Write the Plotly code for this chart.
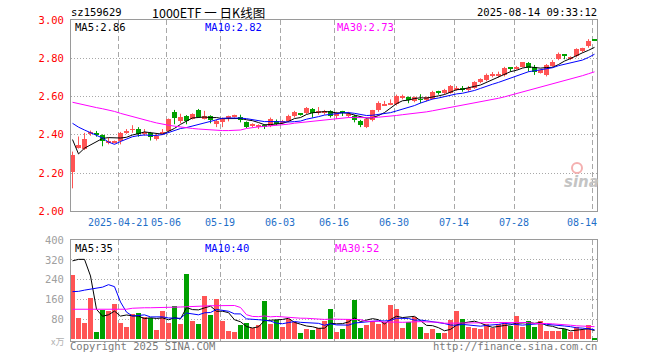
import plotly.graph_objects as go

# ---------------- data ----------------
dates = [
    "2025-04-09", "2025-04-10", "2025-04-11", "2025-04-14", "2025-04-15", "2025-04-16", "2025-04-17", "2025-04-18",
    "2025-04-21", "2025-04-22", "2025-04-23", "2025-04-24", "2025-04-25", "2025-04-28", "2025-04-29", "2025-04-30",
    "2025-05-06", "2025-05-07", "2025-05-08", "2025-05-09", "2025-05-12", "2025-05-13", "2025-05-14", "2025-05-15",
    "2025-05-16", "2025-05-19", "2025-05-20", "2025-05-21", "2025-05-22", "2025-05-23", "2025-05-26", "2025-05-27",
    "2025-05-28", "2025-05-29", "2025-05-30", "2025-06-03", "2025-06-04", "2025-06-05", "2025-06-06", "2025-06-09",
    "2025-06-10", "2025-06-11", "2025-06-12", "2025-06-13", "2025-06-16", "2025-06-17", "2025-06-18", "2025-06-19",
    "2025-06-20", "2025-06-23", "2025-06-24", "2025-06-25", "2025-06-26", "2025-06-27", "2025-06-30", "2025-07-01",
    "2025-07-02", "2025-07-03", "2025-07-04", "2025-07-07", "2025-07-08", "2025-07-09", "2025-07-10", "2025-07-11",
    "2025-07-14", "2025-07-15", "2025-07-16", "2025-07-17", "2025-07-18", "2025-07-21", "2025-07-22", "2025-07-23",
    "2025-07-24", "2025-07-25", "2025-07-28", "2025-07-29", "2025-07-30", "2025-07-31", "2025-08-01", "2025-08-04",
    "2025-08-05", "2025-08-06", "2025-08-07", "2025-08-08", "2025-08-11", "2025-08-12", "2025-08-13", "2025-08-14",
]

opens = [2.207, 2.331, 2.325, 2.405, 2.41, 2.40, 2.355, 2.36, 2.365, 2.41,
         2.425, 2.43, 2.405, 2.41, 2.378, 2.405, 2.42, 2.52, 2.47, 2.50,
         2.483, 2.527, 2.485, 2.50, 2.457, 2.465, 2.49, 2.495, 2.495, 2.468,
         2.447, 2.443, 2.447, 2.446, 2.473, 2.462, 2.47, 2.497, 2.513, 2.516,
         2.536, 2.518, 2.515, 2.524, 2.497, 2.52, 2.497, 2.50, 2.474, 2.443,
         2.478, 2.527, 2.553, 2.556, 2.56, 2.593, 2.595, 2.575, 2.585, 2.58,
         2.587, 2.623, 2.62, 2.618, 2.637, 2.642, 2.632, 2.645, 2.68, 2.685,
         2.708, 2.712, 2.71, 2.752, 2.745, 2.755, 2.775, 2.752, 2.727, 2.714,
         2.762, 2.796, 2.82, 2.798, 2.81, 2.836, 2.862, 2.898]

highs = [2.312, 2.391, 2.41, 2.422, 2.42, 2.402, 2.385, 2.37, 2.415, 2.43,
         2.45, 2.44, 2.43, 2.415, 2.405, 2.43, 2.485, 2.53, 2.51, 2.503,
         2.512, 2.535, 2.525, 2.502, 2.48, 2.49, 2.50, 2.505, 2.505, 2.47,
         2.46, 2.455, 2.455, 2.49, 2.48, 2.478, 2.505, 2.525, 2.513, 2.545,
         2.54, 2.545, 2.53, 2.528, 2.52, 2.525, 2.52, 2.505, 2.478, 2.485,
         2.53, 2.575, 2.577, 2.585, 2.61, 2.61, 2.60, 2.60, 2.612, 2.60,
         2.63, 2.63, 2.64, 2.66, 2.655, 2.655, 2.655, 2.68, 2.695, 2.72,
         2.728, 2.73, 2.755, 2.752, 2.76, 2.78, 2.78, 2.765, 2.74, 2.77,
         2.79, 2.83, 2.822, 2.81, 2.852, 2.855, 2.90, 2.90]

lows = [2.12, 2.328, 2.32, 2.395, 2.39, 2.34, 2.35, 2.355, 2.35, 2.405,
        2.41, 2.39, 2.395, 2.37, 2.37, 2.40, 2.415, 2.455, 2.46, 2.455,
        2.48, 2.488, 2.48, 2.46, 2.44, 2.44, 2.47, 2.49, 2.465, 2.435,
        2.44, 2.43, 2.43, 2.44, 2.45, 2.455, 2.465, 2.49, 2.50, 2.508,
        2.49, 2.505, 2.505, 2.49, 2.483, 2.498, 2.49, 2.465, 2.44, 2.435,
        2.47, 2.52, 2.553, 2.555, 2.553, 2.585, 2.565, 2.57, 2.565, 2.575,
        2.585, 2.61, 2.61, 2.615, 2.63, 2.625, 2.625, 2.64, 2.67, 2.68,
        2.70, 2.70, 2.705, 2.73, 2.74, 2.752, 2.73, 2.713, 2.72, 2.705,
        2.755, 2.79, 2.795, 2.79, 2.805, 2.83, 2.855, 2.89]

closes = [2.295, 2.348, 2.376, 2.41, 2.40, 2.37, 2.37, 2.365, 2.41, 2.42,
          2.43, 2.405, 2.41, 2.39, 2.395, 2.415, 2.48, 2.487, 2.495, 2.47,
          2.508, 2.492, 2.50, 2.478, 2.472, 2.48, 2.495, 2.50, 2.478, 2.44,
          2.455, 2.447, 2.443, 2.482, 2.458, 2.468, 2.498, 2.518, 2.508, 2.538,
          2.513, 2.522, 2.525, 2.50, 2.512, 2.516, 2.508, 2.478, 2.451, 2.482,
          2.527, 2.565, 2.556, 2.562, 2.603, 2.603, 2.582, 2.597, 2.582, 2.595,
          2.623, 2.62, 2.632, 2.655, 2.647, 2.638, 2.647, 2.678, 2.69, 2.715,
          2.72, 2.717, 2.75, 2.748, 2.75, 2.778, 2.75, 2.727, 2.737, 2.766,
          2.783, 2.823, 2.817, 2.803, 2.848, 2.852, 2.888, 2.894]

# volume, unit: 万
volumes = [257, 84, 67, 167, 29, 117, 113, 141, 67, 51,
           100, 107, 91, 84, 37, 113, 67, 133, 61, 264,
           73, 61, 173, 97, 161, 73, 33, 29, 57, 64,
           44, 57, 153, 61, 77, 51, 80, 71, 24, 41,
           37, 47, 75, 121, 31, 41, 81, 157, 47, 57,
           73, 61, 71, 137, 121, 47, 68, 89, 49, 27,
           41, 27, 27, 77, 113, 81, 49, 44, 41, 60,
           47, 60, 69, 55, 95, 49, 73, 49, 73, 33,
           33, 33, 41, 29, 49, 36, 57, 5]

# moving-average values at the start of the window (history not shown)
ma5_head = [2.375, 2.30, 2.33, 2.347]
ma10_head = [2.46, 2.44, 2.425, 2.41, 2.397, 2.383, 2.362, 2.35, 2.365]
ma30_head = [2.57, 2.562, 2.555, 2.548, 2.542, 2.536, 2.53, 2.522, 2.512, 2.503,
             2.495, 2.485, 2.478, 2.47, 2.462, 2.455, 2.45, 2.445, 2.44, 2.437,
             2.433, 2.43, 2.427, 2.425, 2.423, 2.422, 2.422, 2.423, 2.425]
vma5_head = [316, 322, 322, 255]
vma10_head = [192, 193, 198, 202, 205, 210, 220, 212, 150]
vma30_head = [121, 121, 121, 121, 121, 121, 121, 121, 121, 121,
              125, 127, 127, 127, 127, 129, 129, 129, 130, 131,
              131, 131, 134, 135, 136, 136, 136, 136, 128]

tick_dates = ["2025-04-21", "2025-05-06", "2025-05-19", "2025-06-03", "2025-06-16",
              "2025-06-30", "2025-07-14", "2025-07-28", "2025-08-14"]
tick_labels = ["2025-04-21", "05-06", "05-19", "06-03", "06-16", "06-30", "07-14", "07-28", "08-14"]
price_ticks = [2.00, 2.20, 2.40, 2.60, 2.80, 3.00]
vol_ticks = [80, 160, 240, 320, 400]

ma_labels_price = ["MA5:2.86", "MA10:2.82", "MA30:2.73"]
ma_labels_vol = ["MA5:35", "MA10:40", "MA30:52"]


def moving(values, n, head):
    out = list(head)
    for i in range(len(head), len(values)):
        out.append(sum(values[i - n + 1:i + 1]) / n)
    return out


ma5 = moving(closes, 5, ma5_head)
ma10 = moving(closes, 10, ma10_head)
ma30 = moving(closes, 30, ma30_head)
vma5 = moving(volumes, 5, vma5_head)
vma10 = moving(volumes, 10, vma10_head)
vma30 = moving(volumes, 30, vma30_head)

# ---------------- styling ----------------
UP = "#FF5454"
DOWN = "#00A000"
MONO = "DejaVu Sans Mono, Liberation Mono, monospace"
CJK = "Noto Sans CJK SC, DejaVu Sans Mono, sans-serif"
FRAME = "#9a9a9a"
GRID = "#a8a8a8"

L, R, T, B = 71, 63, 20, 19
W, H = 660, 360
PW, PH = W - L - R, H - T - B


def px(x, y):
    return (x - L) / PW, (H - B - y) / PH


xs = list(range(len(dates)))
idx = {d: i for i, d in enumerate(dates)}
grid_x = [idx[d] - 0.36 for d in tick_dates]

fig = go.Figure()

for is_up, col in ((True, UP), (False, DOWN)):
    sel = [i for i in xs if (closes[i] >= opens[i]) == is_up]
    fig.add_trace(go.Bar(
        x=sel,
        base=[min(opens[i], closes[i]) for i in sel],
        y=[max(abs(closes[i] - opens[i]), 0.0045) for i in sel],
        width=0.8, marker=dict(color=col, line=dict(width=0)),
        xaxis="x", yaxis="y", hoverinfo="skip"))
    wx, wy = [], []
    for i in sel:
        wx += [i, i, None]
        wy += [lows[i], highs[i], None]
    fig.add_trace(go.Scatter(x=wx, y=wy, mode="lines", line=dict(color=col, width=1),
                             xaxis="x", yaxis="y", hoverinfo="skip"))
    fig.add_trace(go.Bar(
        x=sel, y=[volumes[i] for i in sel], width=0.8,
        marker=dict(color=col, line=dict(width=0)),
        xaxis="x2", yaxis="y2", hoverinfo="skip"))

for series, col in ((ma5, "#000000"), (ma10, "#0000FF"), (ma30, "#FF00FF")):
    fig.add_trace(go.Scatter(x=xs, y=series, mode="lines", line=dict(color=col, width=1),
                             xaxis="x", yaxis="y", hoverinfo="skip"))
for series, col in ((vma5, "#000000"), (vma10, "#0000FF"), (vma30, "#FF00FF")):
    fig.add_trace(go.Scatter(x=xs, y=series, mode="lines", line=dict(color=col, width=1),
                             xaxis="x2", yaxis="y2", hoverinfo="skip"))

xr = [(L - 72.5) / 6.0, (L + PW - 72.5) / 6.0]
main_bottom = (H - B - 211.3) / PH
vol_top = (H - B - 240) / PH

xcommon = dict(range=xr, showticklabels=False, ticks="", tickvals=grid_x,
               showgrid=True, gridcolor=GRID, griddash="5px,3px", gridwidth=1,
               zeroline=False, showline=True, mirror=True, linecolor=FRAME, linewidth=1,
               fixedrange=True, automargin=False)

annotations = []


def ann(text, x, y, color, size=10, anchor="left", family=MONO, **kw):
    ax, ay = px(x, y)
    d = dict(text=text, x=ax, y=ay, xref="paper", yref="paper", xanchor=anchor,
             yanchor="middle", showarrow=False, font=dict(family=family, size=size, color=color))
    d["font"].update(kw)
    annotations.append(d)


ann("sz159629", 69, 12.5, "#000000", 10.5)
ann("1000ETF 一 日K线图", 150, 12, "#000000", 12.5, family=CJK)
ann("2025-08-14 09:33:12", 599, 12.5, "#000000", 10.5, anchor="right")

for text, x0, col in zip(ma_labels_price, (73, 203, 335), ("#000000", "#0000FF", "#FF00FF")):
    ann(text, x0, 27.5, col, 10.5)
for text, x0, col in zip(ma_labels_vol, (73, 203, 333), ("#000000", "#0000FF", "#FF00FF")):
    ann(text, x0, 247.5, col, 10.5)

ann("Copyright 2025 SINA.COM", 68, 346, "#7a7a7a", 10.5)
ann("http://finance.sina.com.cn", 599, 346, "#7a7a7a", 10.5, anchor="right")
ann("x万", 66, 341, "#b0b0b0", 9, anchor="right", family=CJK)
ann("sina", 581, 182, "#c4c4c4", 15, anchor="center", family="DejaVu Sans",
    style="italic", weight="bold")

for k, (d, lab) in enumerate(zip(tick_dates, tick_labels)):
    if k == len(tick_dates) - 1:
        annotations.append(dict(text=lab, x=1.003, xref="paper", y=px(0, 222)[1], yref="paper",
                                xanchor="right", yanchor="middle", showarrow=False,
                                font=dict(family=MONO, size=10, color="#1f6fc8")))
    else:
        annotations.append(dict(text=lab, x=idx[d] - 0.36, xref="x", y=px(0, 222)[1], yref="paper",
                                xanchor="center", yanchor="middle", showarrow=False,
                                font=dict(family=MONO, size=10, color="#1f6fc8")))

cx, cy = px(577, 168)
fig.add_shape(type="circle", xref="paper", yref="paper",
              x0=cx - 5 / PW, x1=cx + 5 / PW, y0=cy - 5 / PH, y1=cy + 5 / PH,
              line=dict(color="#f4b0b0", width=2), fillcolor="rgba(0,0,0,0)")

fig.update_layout(
    width=W, height=H, autosize=False,
    margin=dict(l=L, r=R, t=T, b=B, pad=0, autoexpand=False),
    paper_bgcolor="white", plot_bgcolor="white",
    showlegend=False, barmode="overlay", bargap=0,
    xaxis=dict(domain=[0, 1], anchor="y", **xcommon),
    xaxis2=dict(domain=[0, 1], anchor="y2", matches="x", **xcommon),
    yaxis=dict(domain=[main_bottom, 1], anchor="x", range=[2.0, 3.0],
               tickvals=price_ticks, ticktext=["%.2f" % v for v in price_ticks],
               tickfont=dict(family=MONO, size=10.5, color="#FF0000"),
               ticks="", ticklabelstandoff=4, automargin=False,
               showgrid=True, gridcolor=GRID, griddash="1px,2px", gridwidth=1,
               zeroline=False, showline=True, mirror=True, linecolor=FRAME, linewidth=1,
               fixedrange=True),
    yaxis2=dict(domain=[0, vol_top], anchor="x2", range=[-7, 400],
                tickvals=vol_ticks, ticktext=[str(v) for v in vol_ticks],
                tickfont=dict(family=MONO, size=10.5, color="#a0a0a0"),
                ticks="", ticklabelstandoff=4, automargin=False,
                showgrid=True, gridcolor=GRID, griddash="1px,2px", gridwidth=1,
                zeroline=False, showline=True, mirror=True, linecolor=FRAME, linewidth=1,
                fixedrange=True),
    annotations=annotations,
)

fig.write_html("out.html", config={"displayModeBar": False},
               post_script="document.body.style.margin='0';document.body.style.padding='0';")
